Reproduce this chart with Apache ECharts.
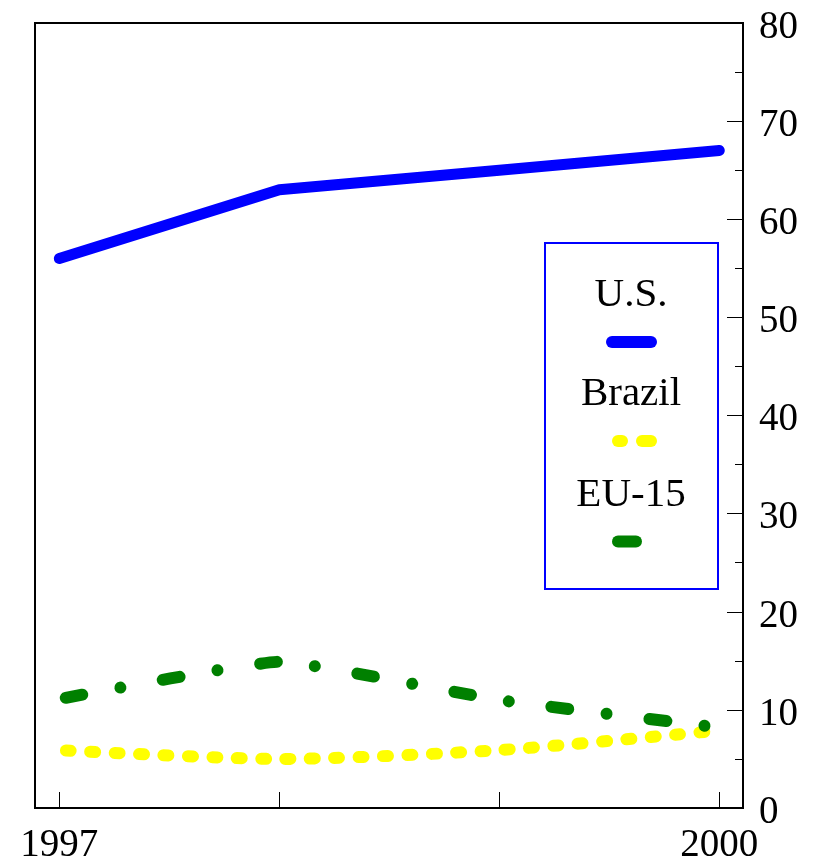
<!DOCTYPE html>
<html>
<head>
<meta charset="utf-8">
<script src="https://cdn.jsdelivr.net/npm/echarts@6/dist/echarts.min.js"></script>
<style>
html,body{margin:0;padding:0;background:#fff;}
#chart{width:820px;height:863px;}
</style>
</head>
<body>
<div id="chart"></div>
<script>
const years = [1997, 1998, 1999, 2000];
const xTickValues = [1997, 1998, 1999, 2000];
const xLabelValues = [1997, 2000];
const usValues = [56, 63, 65, 67];
const brazilValues = [5.9, 5.0, 5.9, 7.9];
const euValues = [11.1, 14.9, 11.0, 8.2];
const seriesNames = ['U.S.', 'Brazil', 'EU-15'];

const FONT = '"Liberation Serif", "Times New Roman", serif';

function pairs(vals) { return years.map((y, i) => [y, vals[i]]); }

const chart = echarts.init(document.getElementById('chart'), null, {renderer: 'canvas'});

const option = {
  animation: false,
  backgroundColor: '#fff',
  grid: {
    left: 35, right: 77, top: 23, bottom: 55,
    outerBoundsMode: 'none', containLabel: false,
    show: true, borderColor: '#000', borderWidth: 2, backgroundColor: 'transparent'
  },
  xAxis: {
    type: 'value',
    min: 1996.8895,
    max: 2000.1077,
    axisLine: {show: true, lineStyle: {color: '#000', width: 2}},
    axisTick: {show: true, inside: true, length: 16, lineStyle: {color: '#000', width: 1}, customValues: xTickValues},
    axisLabel: {
      show: true, customValues: xLabelValues, color: '#000',
      fontFamily: FONT, fontSize: 39, margin: 18,
      formatter: v => String(Math.round(v))
    },
    splitLine: {show: false}
  },
  yAxis: {
    type: 'value',
    position: 'right',
    min: 0, max: 80, interval: 10,
    axisLine: {show: true, lineStyle: {color: '#000', width: 2}},
    axisTick: {show: true, inside: true, length: 16, lineStyle: {color: '#000', width: 1}},
    minorTick: {show: true, splitNumber: 2, length: 8, lineStyle: {color: '#000', width: 1}},
    axisLabel: {
      color: '#000', fontFamily: FONT, fontSize: 39, margin: 16,
      formatter: v => '{a|' + v + '}',
      rich: {a: {color: '#000', fontFamily: FONT, fontSize: 39, padding: [9, 0, 0, 0]}}
    },
    splitLine: {show: false},
    minorSplitLine: {show: false}
  },
  series: [
    {
      name: seriesNames[0], type: 'line', data: pairs(usValues),
      symbol: 'none', smooth: false,
      lineStyle: {color: '#0000ff', width: 11, cap: 'round', join: 'round'}
    },
    {
      name: seriesNames[1], type: 'line', data: pairs(brazilValues),
      symbol: 'none', smooth: 0.25,
      lineStyle: {color: '#ffff00', width: 12, type: [5, 19.4], dashOffset: 17.7, cap: 'round', join: 'round'}
    },
    {
      name: seriesNames[2], type: 'line', data: pairs(euValues),
      symbol: 'none', smooth: 0.12,
      lineStyle: {color: '#008000', width: 12, type: [17, 38.5, 0.01, 43], dashOffset: 91.8, cap: 'round', join: 'round'}
    }
  ],
  graphic: [
    {type: 'rect', shape: {x: 545, y: 243, width: 173, height: 346},
     style: {fill: '#fff', stroke: '#0000ff', lineWidth: 2}, z: 100},
    {type: 'text', x: 631, y: 295, z: 101,
     style: {text: seriesNames[0], fill: '#000', font: '41px ' + FONT, align: 'center', verticalAlign: 'middle'}},
    {type: 'line', z: 101, shape: {x1: 612, y1: 342, x2: 651, y2: 342},
     style: {stroke: '#0000ff', lineWidth: 12, lineCap: 'round'}},
    {type: 'text', x: 631, y: 394, z: 101,
     style: {text: seriesNames[1], fill: '#000', font: '41px ' + FONT, align: 'center', verticalAlign: 'middle'}},
    {type: 'line', z: 101, shape: {x1: 618, y1: 441, x2: 622, y2: 441},
     style: {stroke: '#ffff00', lineWidth: 12, lineCap: 'round'}},
    {type: 'line', z: 101, shape: {x1: 642, y1: 441, x2: 651, y2: 441},
     style: {stroke: '#ffff00', lineWidth: 12, lineCap: 'round'}},
    {type: 'text', x: 631, y: 495, z: 101,
     style: {text: seriesNames[2], fill: '#000', font: '41px ' + FONT, align: 'center', verticalAlign: 'middle'}},
    {type: 'line', z: 101, shape: {x1: 618, y1: 541.5, x2: 636, y2: 541.5},
     style: {stroke: '#008000', lineWidth: 12, lineCap: 'round'}}
  ]
};
chart.setOption(option);
</script>
</body>
</html>
